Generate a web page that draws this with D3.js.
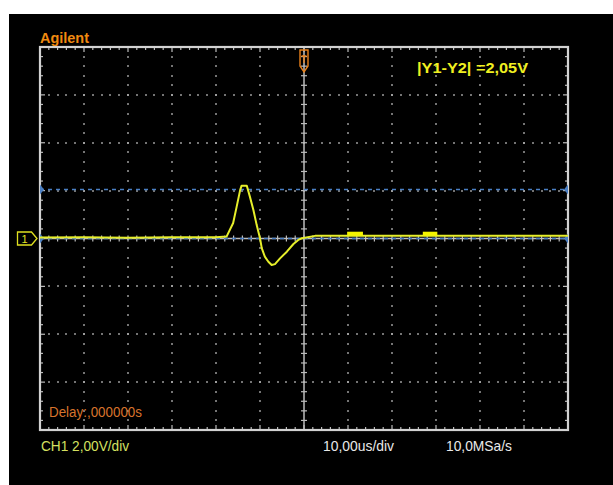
<!DOCTYPE html>
<html><head><meta charset="utf-8">
<script src="https://cdn.jsdelivr.net/npm/d3@7"></script>
<style>html,body{margin:0;padding:0;background:#fff;}svg{display:block;}</style>
</head><body>
<script>
// ---- data ----
const timeUs = [-60,-50,-40,-30,-20,-17.6,-16.1,-15.3,-14.5,-14.2,-13.0,-12.3,-11.5,-10.75,-10.0,-9.6,-8.9,-8.1,-7.35,-6.6,-5.45,-3.9,-2.4,-1.3,-0.5,0.2,2.5,20,40,50,60];
const volts  = [0.04,0.05,0.03,0.05,0.05,0.08,0.65,1.33,2.03,2.2,2.2,1.75,1.19,0.56,0.01,-0.4,-0.76,-0.97,-1.11,-1.07,-0.83,-0.55,-0.23,-0.06,0.01,0.03,0.11,0.11,0.11,0.11,0.11];
const glitchStart = [9.8, 27.0];
const glitchEnd   = [13.4, 30.3];
const glitchVolts = [0.2, 0.2];
const cursorVolts = [2.05, 0];
const timeDomain = [-60, 60];
const voltDomain = [-8, 8];
const hDivs = 12, vDivs = 8, subDivs = 5;
const labels = {
  brand: "Agilent",
  measure: "|Y1-Y2|  =2,05V",
  delay: "Delay:,000000s",
  ch: "CH1 2,00V/div",
  tdiv: "10,00us/div",
  rate: "10,0MSa/s"
};

// ---- layout ----
const W = 613, H = 485;
const L = 40, R = 568, T = 47, B = 430;
const svg = d3.select("body").append("svg").attr("width", W).attr("height", H);
svg.append("rect").attr("width", W).attr("height", H).attr("fill", "#fff");
svg.append("rect").attr("x", 9).attr("y", 14).attr("width", W - 9).attr("height", H - 14).attr("fill", "#000");

const x = d3.scaleLinear().domain(timeDomain).range([L, R]);
const y = d3.scaleLinear().domain(voltDomain).range([B, T]);
const grid = svg.append("g");
const dotColor = "#b4b4b4";

const xDiv = d3.range(1, hDivs).map(i => timeDomain[0] + i * (timeDomain[1] - timeDomain[0]) / hDivs);
const yDiv = d3.range(1, vDivs).map(i => voltDomain[0] + i * (voltDomain[1] - voltDomain[0]) / vDivs);
const ySub = d3.range(0, vDivs * subDivs + 1).map(i => voltDomain[0] + i * (voltDomain[1] - voltDomain[0]) / (vDivs * subDivs));
const xSub = d3.range(0, hDivs * subDivs + 1).map(i => timeDomain[0] + i * (timeDomain[1] - timeDomain[0]) / (hDivs * subDivs));

xDiv.forEach(t => {
  if (t === 0) return;
  ySub.forEach(v => {
    grid.append("rect").attr("x", Math.round(x(t)) - 0.8).attr("y", Math.round(y(v)) - 0.8)
      .attr("width", 1.6).attr("height", 1.6).attr("fill", dotColor);
  });
});
yDiv.forEach(v => {
  if (v === 0) return;
  xSub.forEach(t => {
    grid.append("rect").attr("x", Math.round(x(t)) - 0.8).attr("y", Math.round(y(v)) - 0.8)
      .attr("width", 1.6).attr("height", 1.6).attr("fill", dotColor);
  });
});

// center axes with ticks
const axisColor = "#bcbcbc";
grid.append("line").attr("x1", x(0)).attr("x2", x(0)).attr("y1", T).attr("y2", B).attr("stroke", axisColor).attr("stroke-width", 1.5);
grid.append("line").attr("x1", L).attr("x2", R).attr("y1", y(0)).attr("y2", y(0)).attr("stroke", axisColor).attr("stroke-width", 1.3);
ySub.forEach(v => grid.append("line").attr("x1", x(0) - 3).attr("x2", x(0) + 3).attr("y1", y(v)).attr("y2", y(v)).attr("stroke", axisColor).attr("stroke-width", 1.2));
xSub.forEach(t => grid.append("line").attr("x1", x(t)).attr("x2", x(t)).attr("y1", y(0) - 3).attr("y2", y(0) + 3).attr("stroke", axisColor).attr("stroke-width", 1.2));

// frame ticks
xSub.forEach(t => {
  const big = xDiv.includes(t) ? 5 : 3;
  grid.append("line").attr("x1", x(t)).attr("x2", x(t)).attr("y1", T).attr("y2", T + big).attr("stroke", axisColor).attr("stroke-width", 1.2);
  grid.append("line").attr("x1", x(t)).attr("x2", x(t)).attr("y1", B).attr("y2", B - big).attr("stroke", axisColor).attr("stroke-width", 1.2);
});
ySub.forEach(v => {
  const big = yDiv.includes(v) ? 5 : 3;
  grid.append("line").attr("x1", L).attr("x2", L + big).attr("y1", y(v)).attr("y2", y(v)).attr("stroke", axisColor).attr("stroke-width", 1.2);
  grid.append("line").attr("x1", R).attr("x2", R - big).attr("y1", y(v)).attr("y2", y(v)).attr("stroke", axisColor).attr("stroke-width", 1.2);
});
// frame
svg.append("rect").attr("x", L).attr("y", T).attr("width", R - L).attr("height", B - T)
  .attr("fill", "none").attr("stroke", "#d2d2d2").attr("stroke-width", 2.2);

// cursors
const cursorColor = "#4a7fc4";
cursorVolts.forEach(v => {
  svg.append("line").attr("x1", L).attr("x2", R).attr("y1", y(v)).attr("y2", y(v))
    .attr("stroke", cursorColor).attr("stroke-width", 1.6).attr("stroke-dasharray", "4,4");
  svg.append("path").attr("d", `M${L},${y(v) - 5}L${L + 4},${y(v)}L${L},${y(v) + 5}Z`).attr("fill", cursorColor);
  svg.append("path").attr("d", `M${R},${y(v) - 5}L${R - 4},${y(v)}L${R},${y(v) + 5}Z`).attr("fill", cursorColor);
});

// trace
const traceColor = "#e6ee2a";
const line = d3.line().x((d, i) => x(timeUs[i])).y((d, i) => y(volts[i])).curve(d3.curveLinear);
svg.append("path").datum(volts).attr("d", line).attr("fill", "none")
  .attr("stroke", traceColor).attr("stroke-width", 2).attr("stroke-linejoin", "round");
glitchStart.forEach((s, i) => {
  svg.append("line").attr("x1", x(s)).attr("x2", x(glitchEnd[i])).attr("y1", y(glitchVolts[i])).attr("y2", y(glitchVolts[i]))
    .attr("stroke", "#f4f400").attr("stroke-width", 4);
});

// channel marker
const cy = y(0);
svg.append("path").attr("d", `M17.5,${cy - 6.5}H31.5L37,${cy}L31.5,${cy + 6.5}H17.5Z`)
  .attr("fill", "none").attr("stroke", "#e0e020").attr("stroke-width", 1.3);
svg.append("text").attr("x", 24.5).attr("y", cy + 4.5).attr("text-anchor", "middle")
  .attr("font-family", "Liberation Sans, Arial, sans-serif").attr("font-size", 11).attr("fill", "#e0e020").text("1");

// trigger marker
const tx = x(0);
svg.append("path").attr("d", `M${tx - 4},50 H${tx + 4} V66 L${tx},72 L${tx - 4},66 Z`)
  .attr("fill", "none").attr("stroke", "#e8801a").attr("stroke-width", 1.4);
svg.append("path").attr("d", `M${tx - 2.5},56H${tx + 2.5}M${tx},56V63`).attr("stroke", "#e8801a").attr("stroke-width", 1.3);

// texts
const font = "Liberation Sans, Arial, sans-serif";
function txt(s, x0, y0, size, color, len, weight) {
  svg.append("text").attr("x", x0).attr("y", y0).attr("font-family", font).attr("font-size", size)
    .attr("font-weight", weight || "normal").attr("fill", color)
    .attr("textLength", len).attr("lengthAdjust", "spacingAndGlyphs").text(s);
}
txt(labels.brand, 40, 43, 14, "#f08a10", 49, "bold");
txt(labels.measure, 417, 73, 15, "#f0f020", 111, "bold");
txt(labels.delay, 49, 417, 14, "#d8742c", 93);
txt(labels.ch, 41, 451, 14.5, "#d4e060", 88);
txt(labels.tdiv, 323, 451, 14.5, "#e8e8e8", 71);
txt(labels.rate, 446, 451, 14.5, "#e8e8e8", 66);
</script>
</body></html>
